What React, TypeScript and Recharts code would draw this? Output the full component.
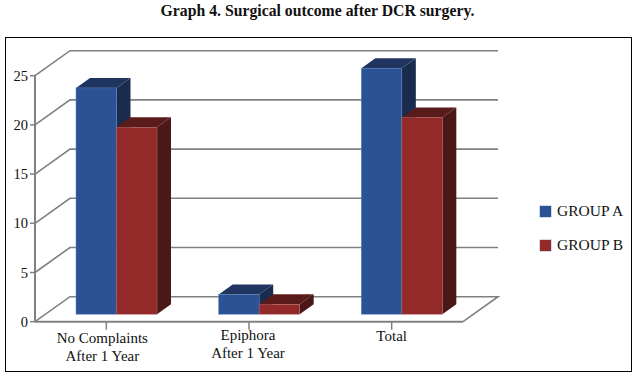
import { Bar, BarChart, CartesianGrid, Legend, XAxis, YAxis } from "recharts";

const categories = ["No Complaints\nAfter 1 Year", "Epiphora\nAfter 1 Year", "Total"];
const groupA = [23, 2, 25];
const groupB = [19, 1, 20];
const yTicks = [0, 5, 10, 15, 20, 25];

const data = categories.map((name, i) => ({ name, a: groupA[i], b: groupB[i] }));

const FONT = "'Liberation Serif', serif";
const LINE = "#808080";
// fake 3d: how far the back wall and the bars sit behind the front plane
const WALL_DX = 35;
const WALL_DY = -25;
const BAR_DX = 10;
const BAR_DY = -7.5;
const DEPTH_X = 14;
const DEPTH_Y = -10;
// the labels in the picture are not quite on the tick centres
const TICK_NUDGE = [
  { dx: -4, dy: 0 },
  { dx: -1, dy: -3 },
  { dx: 0, dy: -1.5 },
];

const BLUE = { front: "#2a5295", top: "#1f3560", side: "#1a2c4e", edge: "#5f82b8" };
const RED = { front: "#922a2a", top: "#5a1c1b", side: "#4a1917", edge: "#b06a68" };

function box(colors: typeof BLUE) {
  return function Box3d(props: any) {
    const x = props.x + BAR_DX;
    const y = props.y + BAR_DY;
    const w = props.width;
    const h = props.height;
    return (
      <g>
        <polygon
          points={`${x + w},${y} ${x + w + DEPTH_X},${y + DEPTH_Y} ${x + w + DEPTH_X},${y + h + DEPTH_Y} ${x + w},${y + h}`}
          fill={colors.side}
        />
        <polygon
          points={`${x},${y} ${x + DEPTH_X},${y + DEPTH_Y} ${x + w + DEPTH_X},${y + DEPTH_Y} ${x + w},${y}`}
          fill={colors.top}
        />
        <rect x={x} y={y} width={w} height={h} fill={colors.front} stroke={colors.edge} strokeWidth={0.5} />
      </g>
    );
  };
}

function WallLine(props: any) {
  const { x1, x2, y1 } = props;
  const backY = y1 + WALL_DY;
  // floor line also closes the right side of the box
  const end = y1 > 300 ? ` L${x2} ${y1}` : "";
  return (
    <path
      d={`M${x1} ${y1} L${x1 + WALL_DX} ${backY} L${x2 + WALL_DX} ${backY}${end}`}
      fill="none"
      stroke={LINE}
      strokeWidth={1.6}
    />
  );
}

function CategoryTick(props: any) {
  const { x, y, payload, index } = props;
  const lines = String(payload.value).split("\n");
  const nudge = TICK_NUDGE[index] || { dx: 0, dy: 0 };
  return (
    <text y={y + 11 + nudge.dy} textAnchor="middle" fontFamily={FONT} fontSize={15} fill="#111">
      {lines.map((line, i) => (
        <tspan key={line} x={x + nudge.dx} dy={i === 0 ? 0 : 18.5}>
          {line}
        </tspan>
      ))}
    </text>
  );
}

function LegendBox({ payload }: any) {
  return (
    <div style={{ fontFamily: FONT, fontSize: 15.5, color: "#111" }}>
      {(payload || []).map((item: any) => (
        <div key={item.value} style={{ display: "flex", alignItems: "center", height: 34 }}>
          <span style={{ width: 11, height: 11, background: item.color, marginRight: 6, boxShadow: "0 0 0 0.5px #9db4d6" }} />
          {item.value}
        </div>
      ))}
    </div>
  );
}

export default function App() {
  return (
    <div style={{ position: "absolute", left: 0, top: 0, width: 638, height: 380, background: "#fff" }}>
      <div
        style={{
          position: "absolute",
          left: 0,
          width: 635,
          top: 2,
          textAlign: "center",
          fontFamily: FONT,
          fontWeight: "bold",
          fontSize: 15.75,
          color: "#111",
        }}
      >
        Graph 4. Surgical outcome after DCR surgery.
      </div>
      <div style={{ position: "absolute", left: 5, top: 37, width: 625, height: 333, border: "1.5px solid #000" }} />
      <div style={{ position: "absolute", left: 0, top: 0 }}>
        <BarChart
          width={638}
          height={380}
          data={data}
          barSize={40.5}
          barGap={0}
          margin={{ top: 75.7, right: 85, bottom: 18.3, left: 5 }}
        >
          <CartesianGrid vertical={false} horizontal={(p: any) => <WallLine key={p.key} {...p} />} />
          <XAxis
            dataKey="name"
            height={40}
            interval={0}
            tick={<CategoryTick />}
            tickSize={8}
            axisLine={{ stroke: LINE, strokeWidth: 2 }}
            tickLine={{ stroke: LINE, strokeWidth: 1.5 }}
          />
          <YAxis
            width={30}
            domain={[0, 25]}
            ticks={yTicks}
            tickSize={5}
            tick={{ fontFamily: FONT, fontSize: 14.5, fill: "#111" }}
            axisLine={{ stroke: LINE, strokeWidth: 2 }}
            tickLine={{ stroke: LINE, strokeWidth: 1.5 }}
          />
          <Legend
            layout="vertical"
            align="right"
            verticalAlign="middle"
            width={90}
            content={<LegendBox />}
            wrapperStyle={{ left: 540, top: 194 }}
          />
          <Bar dataKey="a" name="GROUP A" fill={BLUE.front} shape={box(BLUE)} isAnimationActive={false} />
          <Bar dataKey="b" name="GROUP B" fill={RED.front} shape={box(RED)} isAnimationActive={false} />
        </BarChart>
      </div>
    </div>
  );
}
